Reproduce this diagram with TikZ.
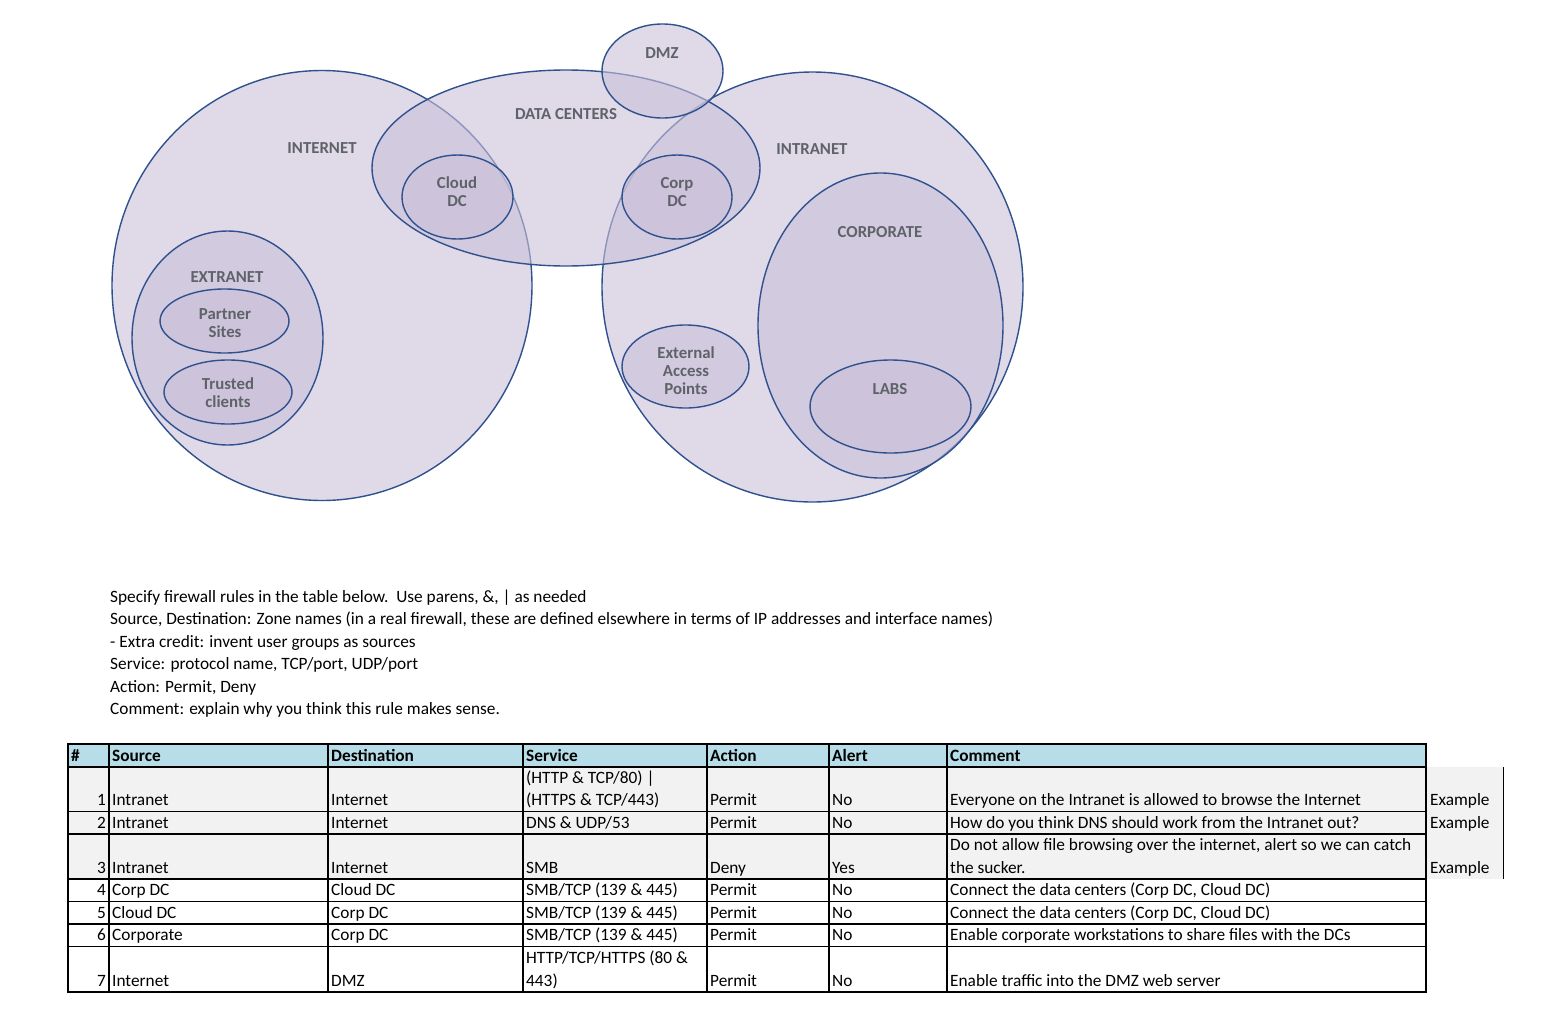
\documentclass[tikz,border=0pt]{standalone}
\usepackage{fontspec}
\setmainfont{Carlito}
\usetikzlibrary{shapes.geometric}
\definecolor{zonefill}{RGB}{202,193,217}
\definecolor{zoneline}{RGB}{47,82,143}
\definecolor{labelgray}{RGB}{95,99,105}
\definecolor{headfill}{RGB}{183,222,232}
\definecolor{rowfill}{RGB}{242,242,242}
\newcommand{\tcell}[4]{\node[cell] (#1) at (#2,#3) {#4};}
\newcommand{\tnum}[4]{\node[numcell] (#1) at (#2,#3) {#4};}
\newcommand{\thead}[4]{\node[headcell] (#1) at (#2,#3) {#4};}
\begin{document}
\begin{tikzpicture}[x=1pt,y=-1pt,
  zone/.style={ellipse, draw=zoneline, line width=1.4pt, fill=zonefill, fill opacity=0.6, inner sep=0pt},
  zlabel/.style={font=\fontsize{16.8}{18}\selectfont\bfseries, text=labelgray, align=center, inner sep=0pt},
  cell/.style={anchor=base west, inner sep=0pt, font=\fontsize{17.3}{20}\selectfont},
  numcell/.style={anchor=base east, inner sep=0pt, font=\fontsize{17.3}{20}\selectfont},
  headcell/.style={anchor=base west, inner sep=0pt, font=\fontsize{17.3}{20}\selectfont\bfseries},
  bodytext/.style={anchor=base west, inner sep=0pt, font=\fontsize{17.3}{20}\selectfont},
  thickrule/.style={line width=2.2pt, black},
  thinrule/.style={line width=1.5pt, black}]
\useasboundingbox (0,0) rectangle (1551,1012);
\fill[white] (0,0) rectangle (1551,1012);

% ---------- zones ----------
\node[zone, minimum width=420pt, minimum height=430pt] (internet) at (322,285.5) {};
\node[zone, minimum width=421pt, minimum height=430pt] (intranet) at (812.5,287) {};
\node[zone, minimum width=388pt, minimum height=196pt] (dc) at (566,168) {};
\node[zone, minimum width=121pt, minimum height=94pt] (dmz) at (662.5,71) {};
\node[zone, minimum width=111pt, minimum height=84pt] (clouddc) at (457.5,197) {};
\node[zone, minimum width=110pt, minimum height=84pt] (corpdc) at (677,197) {};
\node[zone, minimum width=191pt, minimum height=214pt] (extranet) at (227.5,338) {};
\node[zone, minimum width=129pt, minimum height=64pt] (partner) at (224.5,321) {};
\node[zone, minimum width=128pt, minimum height=64pt] (trusted) at (228,392) {};
\node[zone, minimum width=127pt, minimum height=83pt] (external) at (685.5,366.5) {};
\node[zone, minimum width=245pt, minimum height=305pt] (corporate) at (880.5,325.5) {};
\node[zone, minimum width=161pt, minimum height=93pt] (labs) at (890.5,406.5) {};

% ---------- zone labels ----------
\node[zlabel] (ldmz) at (662,53) {DMZ};
\node[zlabel] (ldc) at (566,114) {DATA CENTERS};
\node[zlabel] (linternet) at (322,148) {INTERNET};
\node[zlabel] (lintranet) at (812,149) {INTRANET};
\node[zlabel] (lcloud) at (457,192) {Cloud\\DC};
\node[zlabel] (lcorpdc) at (677,192) {Corp\\DC};
\node[zlabel] (lcorporate) at (880,232) {CORPORATE};
\node[zlabel] (lextranet) at (227,277) {EXTRANET};
\node[zlabel] (lpartner) at (225,323) {Partner\\Sites};
\node[zlabel] (ltrusted) at (228,393) {Trusted\\clients};
\node[zlabel] (lexternal) at (686,371) {External\\Access\\Points};
\node[zlabel] (llabs) at (890,389) {LABS};

% ---------- instructions ----------
\node[bodytext] (t1) at (110,602) {Specify firewall rules in the table below.\ \ Use parens, \&, | as needed};
\node[bodytext] (t2) at (110,624.5) {Source, Destination: Zone names (in a real firewall, these are defined elsewhere in terms of IP addresses and interface names)};
\node[bodytext] (t3) at (110,647) {- Extra credit: invent user groups as sources};
\node[bodytext] (t4) at (110,669.5) {Service: protocol name, TCP/port, UDP/port};
\node[bodytext] (t5) at (110,692) {Action: Permit, Deny};
\node[bodytext] (t6) at (110,714.5) {Comment: explain why you think this rule makes sense.};

% ---------- table fills ----------
\fill[headfill] (68,744) rectangle (1426,767);
\fill[rowfill] (68,767) rectangle (1503,879);
\draw[line width=1pt, black] (1503,767) -- (1503,879);

% ---------- table rules ----------
\foreach \yy in {811.5,834,879,901.5,924,946.5} {\draw[thinrule] (68,\yy) -- (1426,\yy);}
\draw[thickrule] (68,767) -- (1426,767);
\foreach \xx in {109,328,523,707,829,947} {\draw[thinrule] (\xx,744) -- (\xx,992);}
\draw[thickrule] (68,744) rectangle (1426,992);

% ---------- header ----------
\thead{hnum}{71}{761}{\#}
\thead{hsrc}{112}{761}{Source}
\thead{hdst}{331}{761}{Destination}
\thead{hsvc}{526}{761}{Service}
\thead{hact}{710}{761}{Action}
\thead{halt}{832}{761}{Alert}
\thead{hcom}{950}{761}{Comment}

% ---------- row 1 ----------
\tnum{n1}{106}{805.5}{1}
\tcell{s1}{112}{805.5}{Intranet}
\tcell{d1}{331}{805.5}{Internet}
\tcell{v1a}{526}{783}{(HTTP \& TCP/80) |}
\tcell{v1b}{526}{805.5}{(HTTPS \& TCP/443)}
\tcell{a1}{710}{805.5}{Permit}
\tcell{al1}{832}{805.5}{No}
\tcell{c1}{950}{805.5}{Everyone on the Intranet is allowed to browse the Internet}
\tcell{e1}{1430}{805.5}{Example}

% ---------- row 2 ----------
\tnum{n2}{106}{828}{2}
\tcell{s2}{112}{828}{Intranet}
\tcell{d2}{331}{828}{Internet}
\tcell{v2}{526}{828}{DNS \& UDP/53}
\tcell{a2}{710}{828}{Permit}
\tcell{al2}{832}{828}{No}
\tcell{c2}{950}{828}{How do you think DNS should work from the Intranet out?}
\tcell{e2}{1430}{828}{Example}

% ---------- row 3 ----------
\tnum{n3}{106}{873}{3}
\tcell{s3}{112}{873}{Intranet}
\tcell{d3}{331}{873}{Internet}
\tcell{v3}{526}{873}{SMB}
\tcell{a3}{710}{873}{Deny}
\tcell{al3}{832}{873}{Yes}
\tcell{c3a}{950}{850.5}{Do not allow file browsing over the internet, alert so we can catch}
\tcell{c3b}{950}{873}{the sucker.}
\tcell{e3}{1430}{873}{Example}

% ---------- row 4 ----------
\tnum{n4}{106}{895.5}{4}
\tcell{s4}{112}{895.5}{Corp DC}
\tcell{d4}{331}{895.5}{Cloud DC}
\tcell{v4}{526}{895.5}{SMB/TCP (139 \& 445)}
\tcell{a4}{710}{895.5}{Permit}
\tcell{al4}{832}{895.5}{No}
\tcell{c4}{950}{895.5}{Connect the data centers (Corp DC, Cloud DC)}

% ---------- row 5 ----------
\tnum{n5}{106}{918}{5}
\tcell{s5}{112}{918}{Cloud DC}
\tcell{d5}{331}{918}{Corp DC}
\tcell{v5}{526}{918}{SMB/TCP (139 \& 445)}
\tcell{a5}{710}{918}{Permit}
\tcell{al5}{832}{918}{No}
\tcell{c5}{950}{918}{Connect the data centers (Corp DC, Cloud DC)}

% ---------- row 6 ----------
\tnum{n6}{106}{940.5}{6}
\tcell{s6}{112}{940.5}{Corporate}
\tcell{d6}{331}{940.5}{Corp DC}
\tcell{v6}{526}{940.5}{SMB/TCP (139 \& 445)}
\tcell{a6}{710}{940.5}{Permit}
\tcell{al6}{832}{940.5}{No}
\tcell{c6}{950}{940.5}{Enable corporate workstations to share files with the DCs}

% ---------- row 7 ----------
\tnum{n7}{106}{986}{7}
\tcell{s7}{112}{986}{Internet}
\tcell{d7}{331}{986}{DMZ}
\tcell{v7a}{526}{963.5}{HTTP/TCP/HTTPS (80 \&}
\tcell{v7b}{526}{986}{443)}
\tcell{a7}{710}{986}{Permit}
\tcell{al7}{832}{986}{No}
\tcell{c7}{950}{986}{Enable traffic into the DMZ web server}
\end{tikzpicture}
\end{document}
